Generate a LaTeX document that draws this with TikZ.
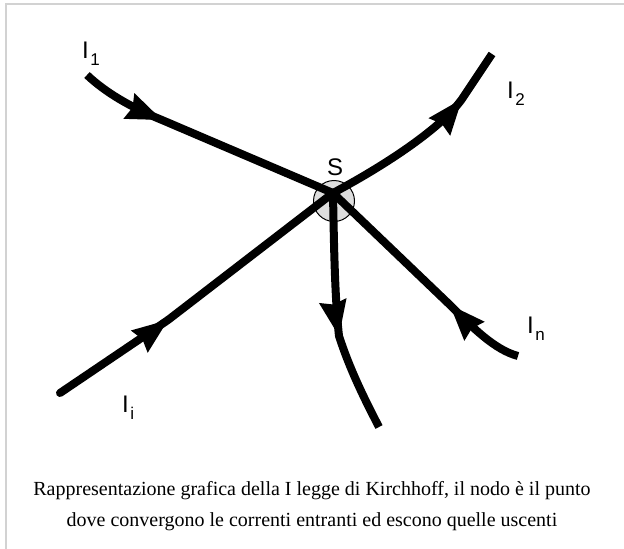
\documentclass[tikz,border=0pt]{standalone}
\usepackage{fontspec}
\setmainfont{Liberation Serif}
\newfontfamily\labfont{Liberation Sans}
\newcommand\Isub[1]{I\kern1.5pt\raisebox{-7pt}{\fontsize{17}{17}\selectfont #1}}
\newcommand\ahead[2]{\fill[shift={(#1)}, rotate=#2] (0pt,0pt) -- (-36pt,14pt) -- (-32pt,0pt) -- (-36pt,-14pt) -- cycle;}
\begin{document}
\begin{tikzpicture}[x=1pt,y=-1pt,
  wire/.style={line width=8pt},
  lab/.style={font=\labfont\fontsize{24}{24}\selectfont, inner sep=0pt, anchor=base west},
  caption/.style={font=\fontsize{20}{31}\selectfont, align=center, inner sep=0pt},
  junction/.style={circle, draw, line width=1pt, fill=gray!27, minimum size=41pt, inner sep=0pt}]
\useasboundingbox (0,0) rectangle (624,549);
\draw[gray!35, line width=2pt] (6,549) -- (6,4) -- (624,4);

\node[junction] (S) at (334,201) {};
\coordinate (J) at (333,193);

% I1
\coordinate (s1) at (87,75);
\coordinate (t1) at (162,120);
\draw[wire] (s1) .. controls (105,92) and (130,107) .. (t1) -- (J);
\ahead{t1}{-23}

% I2
\coordinate (t2) at (462,99);
\coordinate (e2) at (492,54);
\draw[wire] (J) .. controls (380,168) and (440,130) .. (t2) -- (e2);
\ahead{t2}{51}

% down
\coordinate (t3) at (339,336);
\coordinate (e3) at (379,427);
\draw[wire] (J) .. controls (334,250) and (335,300) .. (t3) .. controls (350,370) and (365,400) .. (e3);
\ahead{t3}{-80}

% In
\coordinate (e4) at (518,356);
\coordinate (t4) at (450,305);
\draw[wire] (e4) .. controls (495,350) and (473,328) .. (t4) -- (J);
\ahead{t4}{133}

% Ii
\coordinate (e5) at (60,393);
\coordinate (t5) at (168,320);
\draw[wire, line cap=round] (e5) -- (t5);
\draw[wire] (t5) -- (J);
\ahead{t5}{37}

\node[lab] (lS) at (327,175) {S};
\node[lab] (l1) at (82,58) {\Isub{1}};
\node[lab] (l2) at (507,98) {\Isub{2}};
\node[lab] (ln) at (527,333) {\Isub{n}};
\node[lab] (li) at (122,412) {\Isub{i}};

\node[caption] (cap) at (312,506) {Rappresentazione grafica della I legge di Kirchhoff, il nodo è il punto\\dove convergono le correnti entranti ed escono quelle uscenti};
\end{tikzpicture}
\end{document}
